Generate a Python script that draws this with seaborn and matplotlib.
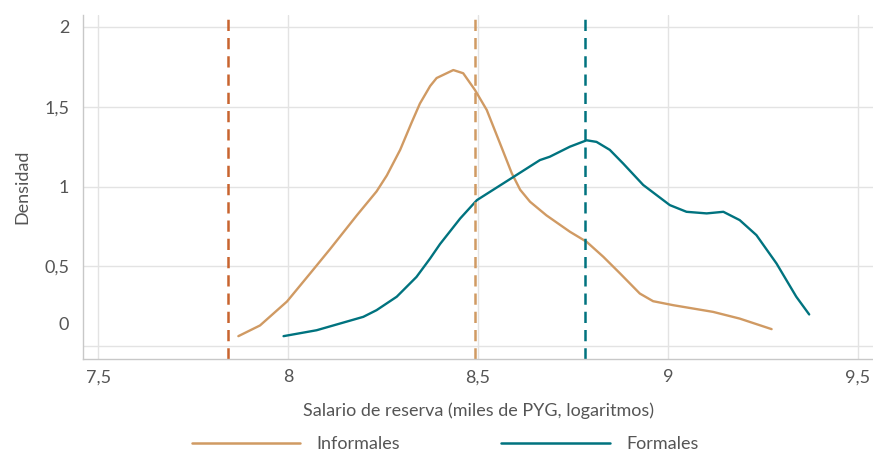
import numpy as np
import pandas as pd
import matplotlib
matplotlib.use("Agg")
import matplotlib.pyplot as plt
import matplotlib.transforms as mtransforms
import seaborn as sns

# Densidades (log salario de reserva)
x_informales = [7.869, 7.926, 7.997, 8.058, 8.111, 8.181, 8.233, 8.26, 8.295, 8.325, 8.347, 8.374,
                8.391, 8.435, 8.461, 8.492, 8.523, 8.558, 8.589, 8.611, 8.637, 8.68, 8.742, 8.786,
                8.83, 8.874, 8.926, 8.961, 9.014, 9.119, 9.189, 9.273]
y_informales = [0.063, 0.13, 0.28, 0.456, 0.61, 0.82, 0.97, 1.07, 1.23, 1.40, 1.52, 1.63,
                1.68, 1.73, 1.71, 1.605, 1.48, 1.27, 1.083, 0.98, 0.905, 0.82, 0.717, 0.654,
                0.56, 0.456, 0.33, 0.282, 0.257, 0.215, 0.173, 0.107]

x_formales = [7.988, 8.075, 8.198, 8.233, 8.286, 8.338, 8.374, 8.4, 8.453, 8.497, 8.593, 8.663,
              8.689, 8.742, 8.786, 8.812, 8.847, 8.882, 8.935, 9.005, 9.049, 9.102, 9.146, 9.189,
              9.233, 9.286, 9.338, 9.372]
y_formales = [0.063, 0.10, 0.184, 0.226, 0.31, 0.434, 0.55, 0.64, 0.80, 0.915, 1.06, 1.166,
              1.187, 1.25, 1.29, 1.28, 1.23, 1.145, 1.01, 0.884, 0.842, 0.832, 0.842, 0.79,
              0.696, 0.518, 0.31, 0.199]

# Lineas verticales de referencia
vlines = [7.842, 8.492, 8.782]
vline_colors = ["#C8642F", "#D09A63", "#00737F"]

grupos = ["Informales", "Formales"]
colores = {"Informales": "#D09A63", "Formales": "#00737F"}

df = pd.concat([
    pd.DataFrame({"x": x_informales, "y": y_informales, "grupo": "Informales"}),
    pd.DataFrame({"x": x_formales, "y": y_formales, "grupo": "Formales"}),
])

sns.set_style("whitegrid")
plt.rcParams["font.family"] = ["Lato", "DejaVu Sans"]
txt = "#555555"
fs = 13

fig = plt.figure(figsize=(8.73, 4.54), dpi=100)
ax = fig.add_axes([0.0951, 0.2093, 0.9049, 0.7577])

sns.lineplot(data=df, x="x", y="y", hue="grupo", hue_order=grupos, palette=colores,
             linewidth=1.7, sort=False, estimator=None, ax=ax)

for v, c in zip(vlines, vline_colors):
    ax.axvline(v, color=c, linestyle=(0, (4.5, 2.8)), linewidth=1.8)

ax.set_xlim(7.46, 9.54)
ax.set_ylim(-0.08, 2.075)
ax.set_xticks([7.5, 8, 8.5, 9, 9.5])
ax.set_xticklabels(["7,5", "8", "8,5", "9", "9,5"])
ax.set_yticks([0, 0.5, 1, 1.5, 2])
ax.set_yticklabels(["0", "0,5", "1", "1,5", "2"])

ax.grid(True, color="#E3E3E3", linewidth=1)
for s in ["top", "right"]:
    ax.spines[s].set_visible(False)
for s in ["left", "bottom"]:
    ax.spines[s].set_color("#C8C8C8")
    ax.spines[s].set_linewidth(1)
ax.tick_params(axis="both", colors="#D5D5D5", length=4, width=1, labelcolor=txt, labelsize=fs)
ax.tick_params(axis="y", pad=6)

# la etiqueta del 0 aparece desplazada hacia arriba en el original
lab0 = ax.get_yticklabels()[0]
lab0.set_transform(lab0.get_transform() + mtransforms.ScaledTranslation(0, 0.23, fig.dpi_scale_trans))

ax.set_xlabel("Salario de reserva (miles de PYG, logaritmos)", color=txt, fontsize=fs, labelpad=12)
ax.set_ylabel("Densidad", color=txt, fontsize=fs, labelpad=10)

ax.get_legend().remove()
handles = [plt.Line2D([], [], color=colores[g], linewidth=1.8) for g in grupos]
fig.legend(handles, grupos, loc="lower center", bbox_to_anchor=(0.51, -0.02), ncol=2, frameon=False,
           fontsize=fs, labelcolor=txt, handlelength=6.0, handletextpad=0.9, columnspacing=5.6,
           borderaxespad=0.2)

fig.savefig("out.png", dpi=100)
